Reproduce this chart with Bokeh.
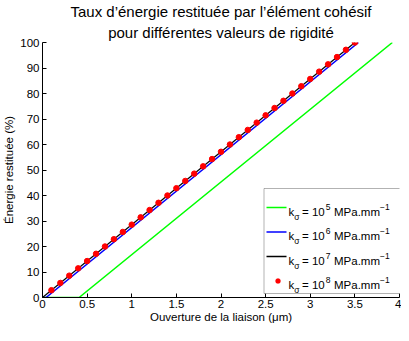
from bokeh.plotting import figure
from bokeh.models import Label, BoxAnnotation, Arrow, Range1d, FixedTicker, Title
from bokeh.embed import file_html
from bokeh.resources import INLINE

# ---------------- data ----------------
x_k5 = [0.0, 0.41, 3.92]
y_k5 = [0.0, 0.0, 100.0]
x_k6 = [0.0, 0.04, 3.54]
y_k6 = [0.0, 0.0, 100.0]
x_k7 = [0.0, 3.5]
y_k7 = [0.0, 100.0]
x_k8 = [0.1, 0.2, 0.3, 0.4, 0.5, 0.6, 0.7, 0.8, 0.9, 1.0,
        1.1, 1.2, 1.3, 1.4, 1.5, 1.6, 1.7, 1.8, 1.9, 2.0,
        2.1, 2.2, 2.3, 2.4, 2.5, 2.6, 2.7, 2.8, 2.9, 3.0,
        3.1, 3.2, 3.3, 3.4, 3.5]
y_k8 = [2.86, 5.71, 8.57, 11.43, 14.29, 17.14, 20.0, 22.86, 25.71, 28.57,
        31.43, 34.29, 37.14, 40.0, 42.86, 45.71, 48.57, 51.43, 54.29, 57.14,
        60.0, 62.86, 65.71, 68.57, 71.43, 74.29, 77.14, 80.0, 82.86, 85.71,
        88.57, 91.43, 94.29, 97.14, 100.0]

stiffness_exponents = ["5", "6", "7", "8"]
x_ticks = [0, 0.5, 1, 1.5, 2, 2.5, 3, 3.5, 4]
x_tick_labels = ["0", "0.5", "1", "1.5", "2", "2.5", "3", "3.5", "4"]
y_ticks = [0, 10, 20, 30, 40, 50, 60, 70, 80, 90, 100]
y_tick_labels = ["0", "10", "20", "30", "40", "50", "60", "70", "80", "90", "100"]

title_line1 = "Taux d\u2019énergie restituée par l\u2019élément cohésif"
title_line2 = "pour différentes valeurs de rigidité"
x_label = "Ouverture de la liaison (\u03bcm)"
y_label = "Énergie restituée (%)"

FONT = "Liberation Sans"
GREEN = "#00ff00"
BLUE = "#0000ff"
BLACK = "#000000"
RED = "#ff0000"

W, H = 401, 325
ML, MR, MT = 38, 2, 37
FW = W - ML - MR  # frame width in px, used to anchor the legend pieces

p = figure(width=W, height=H, output_backend="svg", toolbar_location=None,
           title_location=None,
           x_range=Range1d(0, 4), y_range=Range1d(0, 100),
           min_border_left=ML, min_border_right=MR,
           min_border_top=MT, min_border_bottom=0)
p.background_fill_color = "white"
p.border_fill_color = "white"
p.outline_line_color = None
p.grid.visible = False

# two centred title lines (first added sits closest to the frame)
p.add_layout(Title(text=title_line2, align="center", text_font=FONT, text_font_size="15px",
                   text_font_style="normal", text_color="black", text_line_height=1.1,
                   standoff=4, offset=0), "above")
p.add_layout(Title(text=title_line1, align="center", text_font=FONT, text_font_size="15px",
                   text_font_style="normal", text_color="black", text_line_height=1.1,
                   standoff=0, offset=0), "above")

for ax in (p.xaxis[0], p.yaxis[0]):
    ax.axis_line_color = "black"
    ax.axis_line_width = 1
    ax.major_tick_in = 4
    ax.major_tick_out = 0
    ax.minor_tick_line_color = None
    ax.major_tick_line_color = "black"
    ax.major_label_text_font = FONT
    ax.major_label_text_font_size = "11.5px"
    ax.major_label_text_color = "black"
    ax.major_label_standoff = 3
    ax.axis_label_text_font = FONT
    ax.axis_label_text_font_size = "11.5px"
    ax.axis_label_text_font_style = "normal"
    ax.axis_label_text_color = "black"
    ax.axis_label_standoff = 2

p.xaxis.axis_label = x_label
p.yaxis.axis_label = y_label
p.xaxis.major_label_standoff = 2
p.xaxis.axis_label_standoff = 0

p.xaxis.ticker = FixedTicker(ticks=x_ticks)
p.yaxis.ticker = FixedTicker(ticks=y_ticks)
p.xaxis.major_label_overrides = {t: l for t, l in zip(x_ticks, x_tick_labels)}
p.yaxis.major_label_overrides = {t: l for t, l in zip(y_ticks, y_tick_labels)}

p.line(x_k5, y_k5, line_color=GREEN, line_width=1.5)
p.line(x_k6, y_k6, line_color=BLUE, line_width=1.5)
p.line(x_k7, y_k7, line_color=BLACK, line_width=1.2)
p.scatter(x_k8, y_k8, size=5.5, fill_color=RED, line_color=RED)

def lab(text, x, y, size, align="left", color="black"):
    p.add_layout(Label(text=text, x=x, y=y, x_units="screen", y_units="screen",
                       text_font=FONT, text_font_size=size, text_align=align,
                       text_baseline="alphabetic", text_color=color))

# ---------------- legend (screen units, relative to the plot frame) ----------------
BOX_W, BOX_H = 139, 105
box_r = FW - 0.5
box_l = box_r - BOX_W
p.add_layout(BoxAnnotation(left=box_l, right=box_r, bottom=4, top=4 + BOX_H,
                           left_units="screen", right_units="screen",
                           bottom_units="screen", top_units="screen",
                           fill_color="white", fill_alpha=1.0,
                           line_color="black", line_width=1))

row_base = [86, 61.5, 37, 12.5]
colors = [GREEN, BLUE, BLACK, RED]
samp_l = FW - 137
samp_r = FW - 117
text_x = FW - 115
for i, (base, col, ex) in enumerate(zip(row_base, colors, stiffness_exponents)):
    mid = base + 4
    if i < 3:
        p.add_layout(Arrow(end=None, x_start=samp_l, y_start=mid, x_end=samp_r, y_end=mid,
                           start_units="screen", end_units="screen",
                           line_color=col, line_width=1.5))
    else:
        cx = FW - 125.5
        p.add_layout(BoxAnnotation(left=cx - 2.5, right=cx + 2.5, bottom=mid - 2.5, top=mid + 2.5,
                                   left_units="screen", right_units="screen",
                                   bottom_units="screen", top_units="screen",
                                   border_radius=3, fill_color=RED, fill_alpha=1.0,
                                   line_color=RED))
    x0 = text_x
    lab("k", x0, base, "11.5px")
    lab("\u03c3", x0 + 5.8, base - 5, "8.5px")
    lab("= 10", x0 + 13.5, base, "11.5px")
    lab(ex, x0 + 37.2, base + 5, "8.5px")
    lab("MPa.mm", x0 + 45.5, base, "11.5px")
    lab("\u22121", x0 + 91.5, base + 5, "8.5px")

open("out.html", "w").write(file_html(p, INLINE))
